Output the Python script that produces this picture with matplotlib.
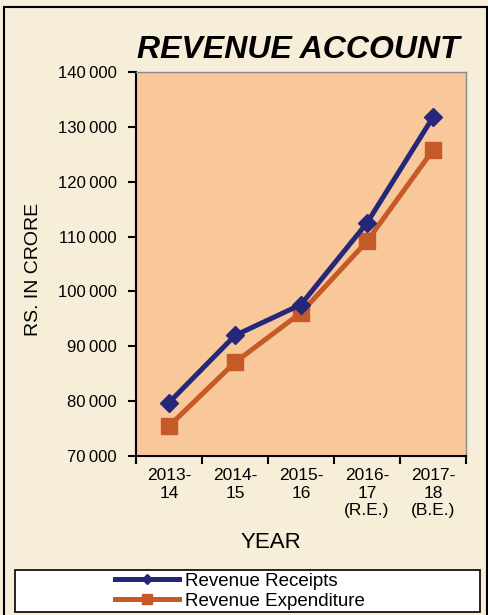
import numpy as np
from matplotlib import pyplot as plt
from matplotlib import patches as mpatches
from matplotlib.ticker import FuncFormatter

plt.rcParams['font.family'] = ['Liberation Sans', 'DejaVu Sans']

# values (Rs. crore)
years = ['2013-\n14', '2014-\n15', '2015-\n16', '2016-\n17\n(R.E.)', '2017-\n18\n(B.E.)']
receipts = [79700, 91950, 97600, 112500, 131800]
expenditure = [75400, 87050, 96100, 109150, 125800]

W, H = 489, 615
fig = plt.figure(figsize=(W / 100, H / 100), dpi=100)
fig.patch.set_facecolor('#f6eed8')

# outer frame
fig.patches.append(mpatches.Rectangle((4 / W, -0.01), 483 / W, 1 - 7 / H + 0.01,
                                      transform=fig.transFigure, fill=False,
                                      edgecolor='black', linewidth=1.5))

ax = fig.add_axes([136 / W, 1 - 455.7 / H, 330 / W, (455.7 - 72.3) / H])
ax.set_facecolor('#f8c89a')

x = np.arange(len(years)) + 0.5
ax.plot(x, receipts, color='#25277a', linewidth=3.6, marker='D', markersize=9,
        label='Revenue Receipts', zorder=3)
ax.plot(x, expenditure, color='#c55a28', linewidth=3.6, marker='s', markersize=11,
        label='Revenue Expenditure', zorder=2)

ax.set_xlim(0, len(years))
ax.set_ylim(70000, 140000)
ax.set_yticks(np.arange(70000, 140001, 10000))
ax.yaxis.set_major_formatter(FuncFormatter(
    lambda v, p: '{:,}'.format(int(v)).replace(',', '\u2009')))

ax.set_xticks(np.arange(0, len(years) + 1))
ax.set_xticklabels([])
ax.set_xticks(x, minor=True)
ax.set_xticklabels(years, minor=True, fontsize=12.5, linespacing=1.22)
ax.tick_params(axis='x', which='minor', length=0, pad=9)
ax.tick_params(axis='x', which='major', length=6, width=1.5, direction='out')
ax.tick_params(axis='y', length=6, width=1.5, direction='out', labelsize=12, pad=8)

for s in ['left', 'bottom']:
    ax.spines[s].set_linewidth(1.5)
    ax.spines[s].set_color('black')
for s in ['top', 'right']:
    ax.spines[s].set_color('#8a8a8a')
    ax.spines[s].set_linewidth(1)

ax.set_ylabel('RS. IN CRORE', fontsize=14)
ax.yaxis.set_label_coords(-0.285, 0.485)
ax.set_xlabel('YEAR', fontsize=16)
ax.xaxis.set_label_coords((271 - 136) / 330, -0.2)
fig.text(298 / W, 1 - 50 / H, 'REVENUE ACCOUNT', fontsize=23, fontweight='bold',
         fontstyle='italic', ha='center', va='center')

# legend box
fig.patches.append(mpatches.Rectangle((15 / W, 3 / H), 465 / W, 42 / H,
                                      transform=fig.transFigure, facecolor='white',
                                      edgecolor='black', linewidth=1.2))
fig.legend(loc='center', bbox_to_anchor=(240 / W, 24 / H), frameon=False,
           fontsize=13.5, handlelength=3.4, labelspacing=0.15, handletextpad=0.3,
           borderpad=0, markerscale=0.6)

fig.savefig('out.png', dpi=100, facecolor=fig.get_facecolor())
